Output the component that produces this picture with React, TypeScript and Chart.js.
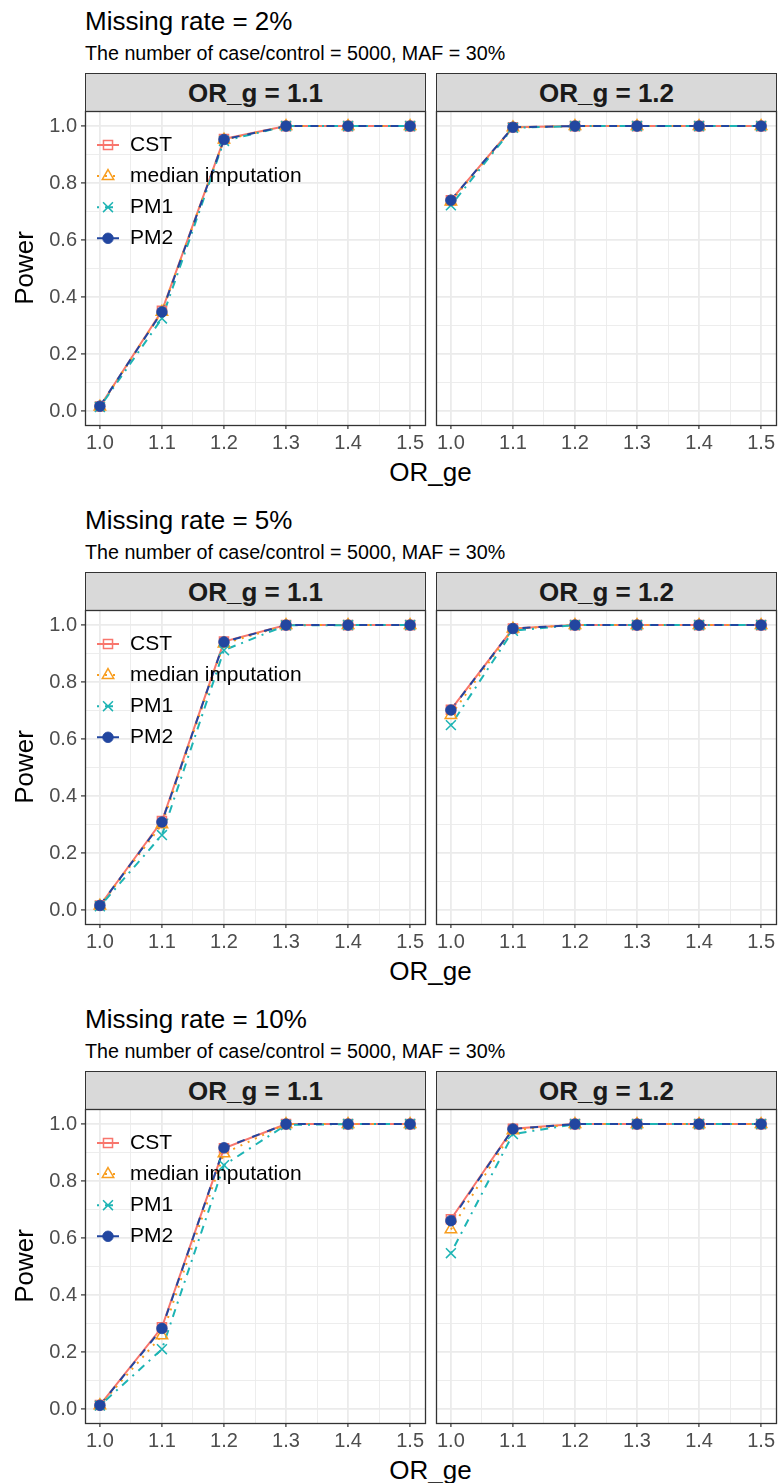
import React, { useEffect, useRef } from 'react';
import { Chart, registerables, PointElement } from 'chart.js';

Chart.register(...registerables);

const FONT = '"Liberation Sans", Arial, Helvetica, sans-serif';
Chart.defaults.font.family = FONT;

// ---------- data ----------
const OR_GE = [1.0, 1.1, 1.2, 1.3, 1.4, 1.5];
const X_MINOR = [1.05, 1.15, 1.25, 1.35, 1.45];
const Y_MAJOR = [0, 0.2, 0.4, 0.6, 0.8, 1.0];
const Y_MINOR = [0.1, 0.3, 0.5, 0.7, 0.9];
const SERIES_NAMES = ['CST', 'median imputation', 'PM1', 'PM2'];
const FACET_LABELS = ['OR_g = 1.1', 'OR_g = 1.2'];
const MISSING_RATES = ['2%', '5%', '10%'];
const SUBTITLE = 'The number of case/control = 5000, MAF = 30%';
const X_TITLE = 'OR_ge';
const Y_TITLE = 'Power';

// Missing rate = 2%
const CST_2_G11 = [0.016, 0.352, 0.955, 1.0, 1.0, 1.0];
const MED_2_G11 = [0.015, 0.348, 0.952, 1.0, 1.0, 1.0];
const PM1_2_G11 = [0.014, 0.325, 0.948, 1.0, 1.0, 1.0];
const PM2_2_G11 = [0.017, 0.348, 0.953, 1.0, 1.0, 1.0];
const CST_2_G12 = [0.740, 0.996, 1.0, 1.0, 1.0, 1.0];
const MED_2_G12 = [0.735, 0.995, 1.0, 1.0, 1.0, 1.0];
const PM1_2_G12 = [0.722, 0.994, 1.0, 1.0, 1.0, 1.0];
const PM2_2_G12 = [0.740, 0.996, 1.0, 1.0, 1.0, 1.0];

// Missing rate = 5%
const CST_5_G11 = [0.016, 0.312, 0.942, 1.0, 1.0, 1.0];
const MED_5_G11 = [0.015, 0.300, 0.935, 1.0, 1.0, 1.0];
const PM1_5_G11 = [0.013, 0.263, 0.912, 0.999, 1.0, 1.0];
const PM2_5_G11 = [0.016, 0.309, 0.941, 1.0, 1.0, 1.0];
const CST_5_G12 = [0.703, 0.988, 1.0, 1.0, 1.0, 1.0];
const MED_5_G12 = [0.684, 0.987, 1.0, 1.0, 1.0, 1.0];
const PM1_5_G12 = [0.649, 0.980, 1.0, 1.0, 1.0, 1.0];
const PM2_5_G12 = [0.702, 0.988, 1.0, 1.0, 1.0, 1.0];

// Missing rate = 10%
const CST_10_G11 = [0.014, 0.287, 0.915, 1.0, 1.0, 1.0];
const MED_10_G11 = [0.013, 0.258, 0.897, 1.0, 1.0, 1.0];
const PM1_10_G11 = [0.012, 0.210, 0.856, 0.997, 1.0, 1.0];
const PM2_10_G11 = [0.013, 0.283, 0.917, 1.0, 1.0, 1.0];
const CST_10_G12 = [0.666, 0.984, 1.0, 1.0, 1.0, 1.0];
const MED_10_G12 = [0.630, 0.978, 1.0, 1.0, 1.0, 1.0];
const PM1_10_G12 = [0.547, 0.965, 1.0, 1.0, 1.0, 1.0];
const PM2_10_G12 = [0.661, 0.983, 1.0, 1.0, 1.0, 1.0];

const PANEL_SERIES = [
  [
    [CST_2_G11, MED_2_G11, PM1_2_G11, PM2_2_G11],
    [CST_2_G12, MED_2_G12, PM1_2_G12, PM2_2_G12],
  ],
  [
    [CST_5_G11, MED_5_G11, PM1_5_G11, PM2_5_G11],
    [CST_5_G12, MED_5_G12, PM1_5_G12, PM2_5_G12],
  ],
  [
    [CST_10_G11, MED_10_G11, PM1_10_G11, PM2_10_G11],
    [CST_10_G12, MED_10_G12, PM1_10_G12, PM2_10_G12],
  ],
];

// ---------- styles ----------
const COLORS = ['#F8766D', '#F89D1E', '#1DB4B4', '#2246A0'];
const DASHES = [[], [2, 6], [2, 6, 8, 6], [8, 8]];
const LINE_W = 2;
const POINT_STYLES = ['rect', 'triangle', 'crossRot', 'circle'];
const POINT_RADII = [6.4, 6.6, 7, 5.3];
const POINT_FILLS = ['rgba(0,0,0,0)', 'rgba(0,0,0,0)', 'rgba(0,0,0,0)', '#2246A0'];
const POINT_BW = [1.5, 1.5, 1.5, 0.8];

const Y_MIN = -0.049;
const Y_MAX = 1.053;
const X_MIN = 0.976;
const X_MAX = 1.524;

const GRID = '#EBEBEB';
const TICK_TEXT = '#4D4D4D';
const DARK = '#333333';

const near = (list: number[], v: any) =>
  typeof v === 'number' && list.some((m) => Math.abs(m - v) < 1e-6);

const borderPlugin = {
  id: 'panelBorder',
  afterDraw(chart: any) {
    const { ctx, chartArea: a } = chart;
    ctx.save();
    ctx.strokeStyle = DARK;
    ctx.lineWidth = 1.3;
    ctx.strokeRect(a.left + 0.5, a.top + 0.5, a.right - a.left, a.bottom - a.top);
    ctx.restore();
  },
};

const legendPlugin = {
  id: 'ggLegend',
  afterDatasetsDraw(chart: any) {
    const { ctx, chartArea: a } = chart;
    SERIES_NAMES.forEach((name, i) => {
      const y = a.top + 34 + i * 31.1;
      ctx.save();
      ctx.beginPath();
      ctx.strokeStyle = COLORS[i];
      ctx.lineWidth = LINE_W;
      ctx.lineCap = 'butt';
      ctx.setLineDash(DASHES[i]);
      ctx.moveTo(a.left + 12, y);
      ctx.lineTo(a.left + 34, y);
      ctx.stroke();
      ctx.restore();
      ctx.save();
      const pt: any = new (PointElement as any)({
        x: a.left + 23,
        y,
        options: {
          pointStyle: POINT_STYLES[i],
          rotation: 0,
          radius: POINT_RADII[i],
          hoverRadius: 0,
          borderWidth: POINT_BW[i],
          borderColor: COLORS[i],
          backgroundColor: POINT_FILLS[i],
        },
      });
      pt.draw(ctx, a);
      ctx.restore();
      ctx.save();
      ctx.fillStyle = '#000000';
      ctx.font = `21px ${FONT}`;
      ctx.textBaseline = 'middle';
      ctx.textAlign = 'left';
      ctx.fillText(name, a.left + 45, y);
      ctx.restore();
    });
  },
};

function makeConfig(series: number[][], isLeft: boolean): any {
  const lineSets = series.map((vals, i) => ({
    label: SERIES_NAMES[i] + ' line',
    data: OR_GE.map((x, j) => ({ x, y: vals[j] })),
    borderColor: COLORS[i],
    borderWidth: LINE_W,
    borderDash: DASHES[i],
    borderCapStyle: 'butt',
    pointRadius: 0,
    pointHoverRadius: 0,
    tension: 0,
    fill: false,
    order: 8 - i,
  }));
  const pointSets = series.map((vals, i) => ({
    label: SERIES_NAMES[i],
    data: OR_GE.map((x, j) => ({ x, y: vals[j] })),
    showLine: false,
    pointStyle: POINT_STYLES[i],
    pointRadius: POINT_RADII[i],
    pointHoverRadius: POINT_RADII[i],
    pointBorderColor: COLORS[i],
    pointBackgroundColor: POINT_FILLS[i],
    pointBorderWidth: POINT_BW[i],
    borderColor: COLORS[i],
    backgroundColor: POINT_FILLS[i],
    order: 4 - i,
  }));

  return {
    type: 'line',
    data: { datasets: [...lineSets, ...pointSets] },
    options: {
      animation: false,
      responsive: false,
      maintainAspectRatio: false,
      events: [],
      layout: {
        autoPadding: false,
        padding: { left: isLeft ? 0 : 6, right: isLeft ? 5 : 4, top: 6, bottom: 0 },
      },
      plugins: {
        legend: { display: false },
        tooltip: { enabled: false },
        title: { display: false },
      },
      scales: {
        x: {
          type: 'linear',
          min: X_MIN,
          max: X_MAX,
          bounds: 'data',
          afterBuildTicks: (s: any) => {
            s.ticks = [...OR_GE, ...X_MINOR].sort((p, q) => p - q).map((v) => ({ value: v }));
          },
          afterFit: (s: any) => {
            s.height = 31;
            s.paddingLeft = 0;
            s.paddingRight = 0;
            s.paddingTop = 0;
            s.paddingBottom = 0;
          },
          ticks: {
            autoSkip: false,
            maxRotation: 0,
            minRotation: 0,
            padding: 2,
            color: TICK_TEXT,
            font: { size: 20, family: FONT },
            callback: (v: any) => (near(OR_GE, v) ? Number(v).toFixed(1) : ''),
          },
          grid: {
            color: GRID,
            lineWidth: (c: any) => (near(OR_GE, c.tick && c.tick.value) ? 1.8 : 0.9),
            drawTicks: true,
            tickLength: 4,
            tickWidth: 1.2,
            tickColor: (c: any) => (near(OR_GE, c.tick && c.tick.value) ? DARK : 'rgba(0,0,0,0)'),
          },
          border: { display: false },
          title: { display: false },
        },
        y: {
          type: 'linear',
          min: Y_MIN,
          max: Y_MAX,
          bounds: 'data',
          afterBuildTicks: (s: any) => {
            s.ticks = [...Y_MAJOR, ...Y_MINOR].sort((p, q) => p - q).map((v) => ({ value: v }));
          },
          afterFit: (s: any) => {
            s.width = isLeft ? 85 : 0;
            s.paddingLeft = 0;
            s.paddingRight = 0;
            s.paddingTop = 0;
            s.paddingBottom = 0;
          },
          ticks: {
            display: isLeft,
            autoSkip: false,
            padding: 4,
            color: TICK_TEXT,
            font: { size: 20, family: FONT },
            callback: (v: any) => (near(Y_MAJOR, v) ? Number(v).toFixed(1) : ''),
          },
          grid: {
            color: GRID,
            lineWidth: (c: any) => (near(Y_MAJOR, c.tick && c.tick.value) ? 1.8 : 0.9),
            drawTicks: isLeft,
            tickLength: 4,
            tickWidth: 1.2,
            tickColor: (c: any) => (near(Y_MAJOR, c.tick && c.tick.value) ? DARK : 'rgba(0,0,0,0)'),
          },
          border: { display: false },
          title: {
            display: isLeft,
            text: Y_TITLE,
            color: '#000000',
            font: { size: 26, family: FONT },
            padding: { top: 10, bottom: 0 },
          },
        },
      },
    },
    plugins: isLeft ? [borderPlugin, legendPlugin] : [borderPlugin],
  };
}

function FacetChart({ series, isLeft, left, top, width, height }: any) {
  const ref = useRef<HTMLCanvasElement | null>(null);
  useEffect(() => {
    if (!ref.current) return;
    const chart = new Chart(ref.current, makeConfig(series, isLeft));
    return () => chart.destroy();
  }, [series, isLeft]);
  return (
    <canvas
      ref={ref}
      width={width}
      height={height}
      style={{ position: 'absolute', left, top, width, height, display: 'block' }}
    />
  );
}

const stripStyle = (left: number): React.CSSProperties => ({
  position: 'absolute',
  left,
  top: 73,
  width: 341,
  height: 39,
  boxSizing: 'border-box',
  border: `1px solid ${DARK}`,
  background: '#D9D9D9',
  display: 'flex',
  alignItems: 'center',
  justifyContent: 'center',
  fontWeight: 'bold',
  fontSize: 26,
  lineHeight: '38px',
  color: '#1A1A1A',
  whiteSpace: 'nowrap',
});

function PanelRow({ index }: { index: number }) {
  const top = index * 499;
  const facets = PANEL_SERIES[index];
  return (
    <div style={{ position: 'absolute', left: 0, top, width: 780, height: 499 }}>
      <div
        style={{
          position: 'absolute',
          left: 85,
          top: 8,
          fontSize: 26,
          lineHeight: '26px',
          color: '#000',
          whiteSpace: 'nowrap',
        }}
      >
        {`Missing rate = ${MISSING_RATES[index]}`}
      </div>
      <div
        style={{
          position: 'absolute',
          left: 85,
          top: 44,
          fontSize: 19.7,
          lineHeight: '19.7px',
          color: '#000',
          whiteSpace: 'nowrap',
        }}
      >
        {SUBTITLE}
      </div>
      <div style={stripStyle(85)}>{FACET_LABELS[0]}</div>
      <div style={stripStyle(436)}>{FACET_LABELS[1]}</div>
      <FacetChart series={facets[0]} isLeft={true} left={0} top={105} width={430} height={351} />
      <FacetChart series={facets[1]} isLeft={false} left={430} top={105} width={350} height={351} />
      <div
        style={{
          position: 'absolute',
          left: 85,
          width: 691,
          top: 459,
          fontSize: 26,
          lineHeight: '26px',
          textAlign: 'center',
          color: '#000',
          whiteSpace: 'nowrap',
        }}
      >
        {X_TITLE}
      </div>
    </div>
  );
}

export default function App() {
  return (
    <div
      style={{
        position: 'absolute',
        left: 0,
        top: 0,
        width: 780,
        height: 1483,
        background: '#FFFFFF',
        fontFamily: FONT,
        overflow: 'hidden',
      }}
    >
      {[0, 1, 2].map((i) => (
        <PanelRow key={i} index={i} />
      ))}
    </div>
  );
}
